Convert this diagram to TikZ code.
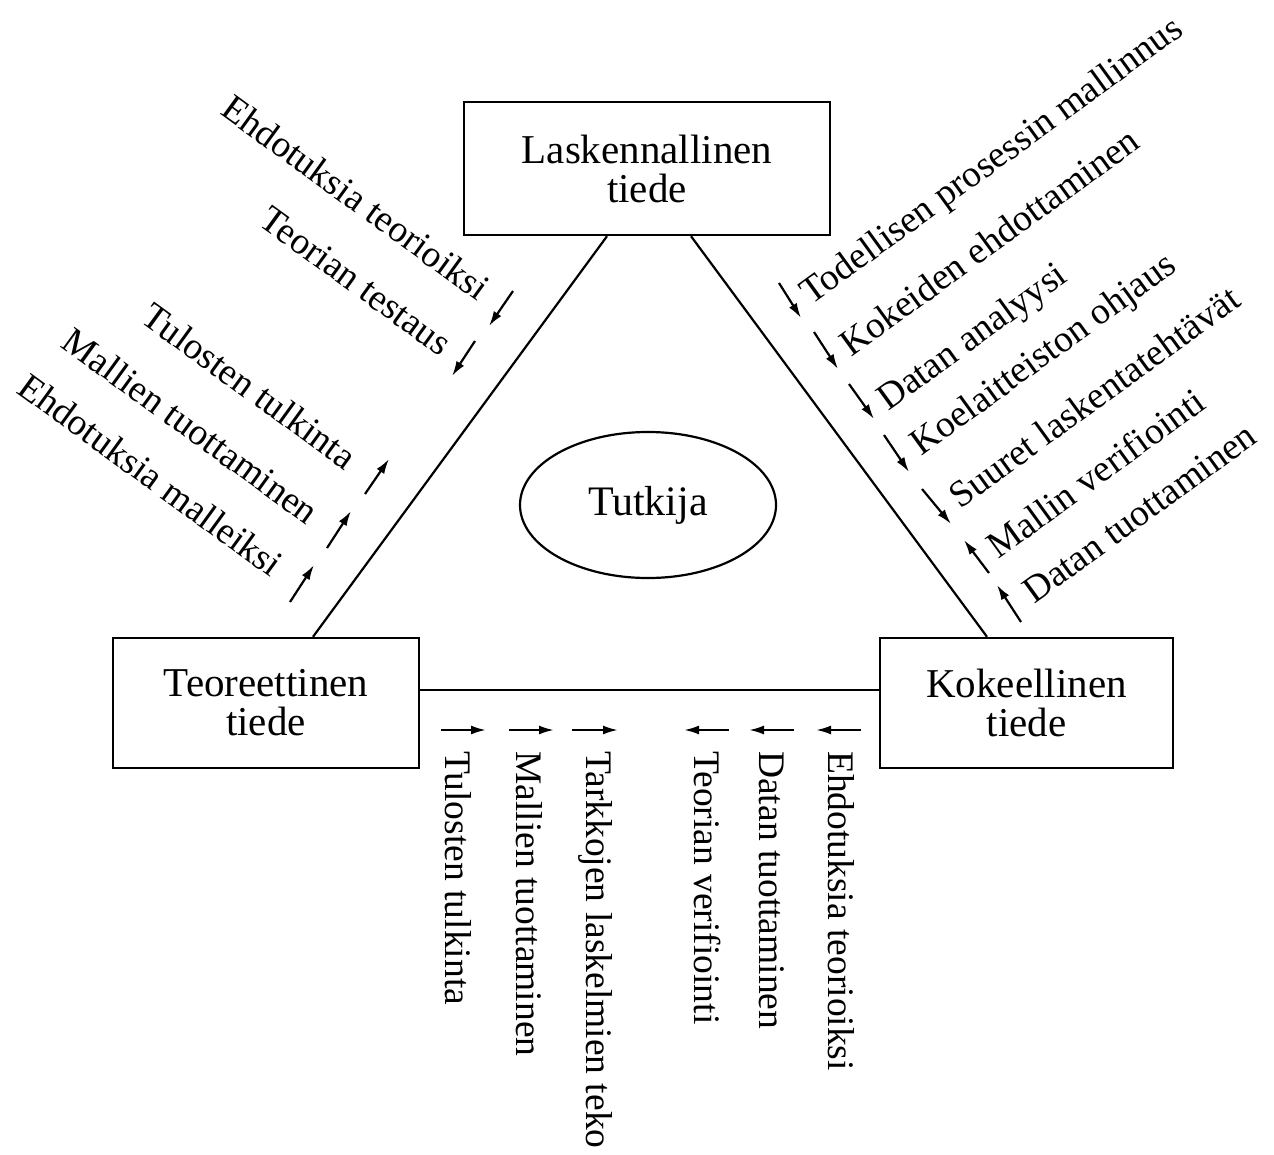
\documentclass[tikz,border=0pt]{standalone}
\usepackage{fontspec}
\setmainfont{Liberation Serif}
\usetikzlibrary{arrows.meta,calc,shapes.geometric}
\begin{document}
\begin{tikzpicture}[x=1pt,y=-1pt,
  field/.style={draw,line width=2.4pt,inner sep=0pt,align=center,
    font=\fontsize{41}{39}\selectfont},
  link/.style={line width=2.2pt},
  lab/.style={inner sep=0pt,font=\fontsize{37.5}{40}\selectfont},
  flow/.style={-{Latex[length=15pt,width=9pt]},line width=2.2pt}]
\useasboundingbox (0,0) rectangle (1274,1154);

% the three fields of science
\node[field,minimum width=366pt,minimum height=133pt] (lask) at (647,168.5) {Laskennallinen\\tiede};
\node[field,minimum width=306pt,minimum height=130pt] (teor) at (266,703) {Teoreettinen\\tiede};
\node[field,minimum width=293pt,minimum height=130pt] (koke) at (1026.5,703) {Kokeellinen\\tiede};
\node[draw,ellipse,line width=2.2pt,minimum width=256pt,minimum height=146pt,inner sep=0pt,
  font=\fontsize{42}{40}\selectfont] (tutk) at (648,505) {Tutkija};

% triangle sides
\draw[link] ($(lask.south)+(-40,0)$) -- ($(teor.north)+(47,0)$);
\draw[link] ($(lask.south)+(44,0)$) -- ($(koke.north)+(-39.5,0)$);
\draw[link] ($(teor.east)+(0,-13)$) -- ($(koke.west)+(0,-13)$);

% left side: between theory and computation
\node[lab,rotate=-36,anchor=base east] (l1) at (478,302) {Ehdotuksia teorioiksi};
\node[lab,rotate=-36,anchor=base east] (l2) at (440,357) {Teorian testaus};
\node[lab,rotate=-36,anchor=base east] (l3) at (345,471) {Tulosten tulkinta};
\node[lab,rotate=-36,anchor=base east] (l4) at (307,526) {Mallien tuottaminen};
\node[lab,rotate=-36,anchor=base east] (l5) at (271,578) {Ehdotuksia malleiksi};
\draw[flow] (513,291) -- (489,326);
\draw[flow] (475,341) -- (452,376);
\draw[flow] (365,494) -- (389,459);
\draw[flow] (327,548) -- (351,511);
\draw[flow] (290,602) -- (314,565);

% right side: between computation and experiment
\node[lab,rotate=36,anchor=base west] (r1) at (811,306) {Todellisen prosessin mallinnus};
\node[lab,rotate=36,anchor=base west] (r2) at (851,358) {Kokeiden ehdottaminen};
\node[lab,rotate=36,anchor=base west] (r3) at (888,412) {Datan analyysi};
\node[lab,rotate=36,anchor=base west] (r4) at (921,457) {Koelaitteiston ohjaus};
\node[lab,rotate=36,anchor=base west] (r5) at (960,510) {Suuret laskentatehtävät};
\node[lab,rotate=36,anchor=base west] (r6) at (998,560) {Mallin verifiointi};
\node[lab,rotate=36,anchor=base west] (r7) at (1034,605) {Datan tuottaminen};
\draw[flow] (779,283) -- (801,318);
\draw[flow] (814,332) -- (838,369);
\draw[flow] (849,384) -- (874,419);
\draw[flow] (884,435) -- (909,472);
\draw[flow] (922,489) -- (951,524);
\draw[flow] (989,573) -- (964,540);
\draw[flow] (1021,622) -- (997,585);

% bottom: between theory and experiment
\node[lab,rotate=-90,anchor=base west] (b1) at (445,751) {Tulosten tulkinta};
\node[lab,rotate=-90,anchor=base west] (b2) at (516,751) {Mallien tuottaminen};
\node[lab,rotate=-90,anchor=base west] (b3) at (586,751) {Tarkkojen laskelmien teko};
\node[lab,rotate=-90,anchor=base west] (b4) at (694,751) {Teorian verifiointi};
\node[lab,rotate=-90,anchor=base west] (b5) at (759,751) {Datan tuottaminen};
\node[lab,rotate=-90,anchor=base west] (b6) at (828,751) {Ehdotuksia teorioiksi};
\draw[flow] (441,730) -- (486,730);
\draw[flow] (509,730) -- (554,730);
\draw[flow] (572,730) -- (618,730);
\draw[flow] (729,730) -- (684,730);
\draw[flow] (794,730) -- (749,730);
\draw[flow] (861,730) -- (816,730);
\end{tikzpicture}
\end{document}
